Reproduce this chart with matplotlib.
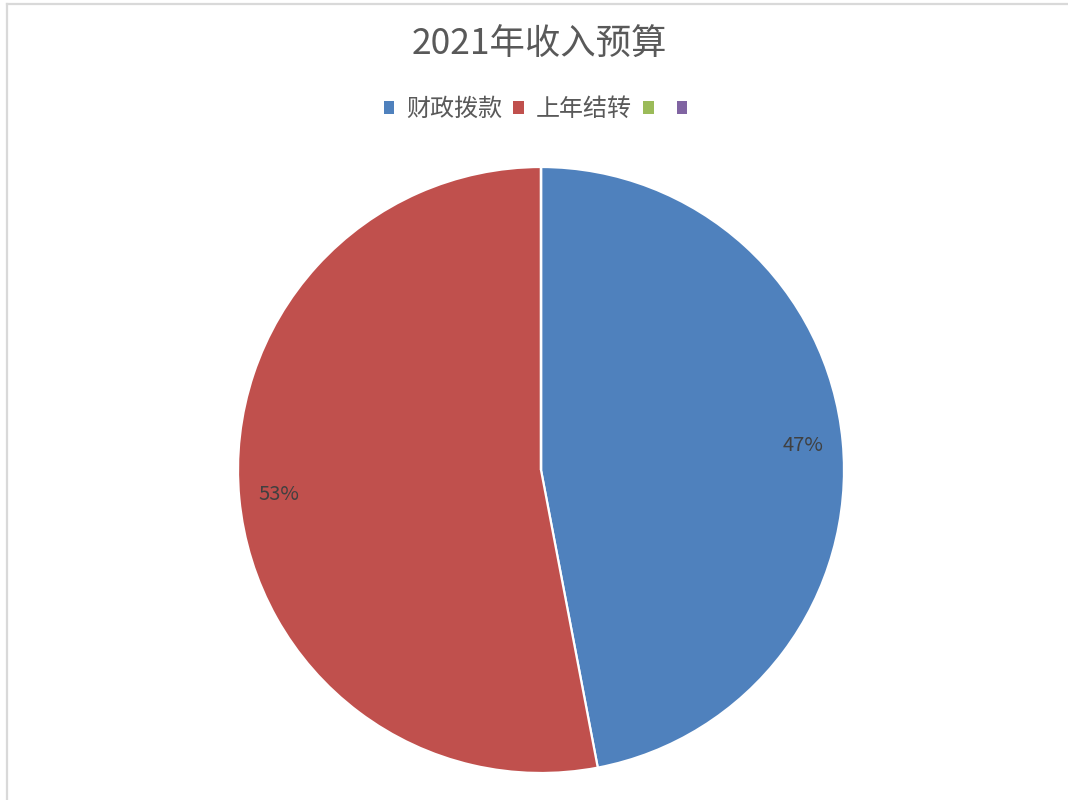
import matplotlib.pyplot as plt
from matplotlib.lines import Line2D

plt.rcParams['font.family'] = ['Noto Sans CJK SC', 'DejaVu Sans']

# chart data
title = '2021年收入预算'
categories = ['财政拨款', '上年结转', '', '']
values = [47, 53, 0, 0]
colors = ['#4F81BD', '#C0504D', '#9BBB59', '#8064A2']


def pct_label(p):
    # hide labels for empty slices
    return f'{p:.0f}%' if p > 0 else ''


fig = plt.figure(figsize=(10.68, 8), dpi=100)
ax = fig.add_axes([238 / 1068, 27 / 800, 606 / 1068, 606 / 800])

wedges, texts, autotexts = ax.pie(
    values, colors=colors, startangle=90, counterclock=False,
    autopct=pct_label, pctdistance=0.87,
    wedgeprops=dict(edgecolor='white', linewidth=1.6),
    textprops=dict(color='#404040', fontsize=14.5))
ax.set_xlim(-1, 1)
ax.set_ylim(-1, 1)
ax.set_aspect('equal')

fig.text(0.505, 1 - 45 / 800, title, ha='center', va='center',
         fontsize=25.5, color='#595959')

leg = fig.legend(wedges, categories, loc='center', ncol=4,
                 bbox_to_anchor=(0.507, 1 - 109 / 800), frameon=False,
                 fontsize=17.3, handlelength=0.45, handleheight=0.45,
                 handletextpad=0.5, columnspacing=0.45,
                 labelcolor='#595959')
for h in leg.legend_handles:
    h.set_edgecolor('none')

# light frame lines on top and left
fig.add_artist(Line2D([7 / 1068, 1], [1 - 4 / 800] * 2, color='#D9D9D9', lw=1.6))
fig.add_artist(Line2D([7 / 1068] * 2, [0, 1 - 4 / 800], color='#D9D9D9', lw=1.6))

plt.savefig('out.png', dpi=100)
